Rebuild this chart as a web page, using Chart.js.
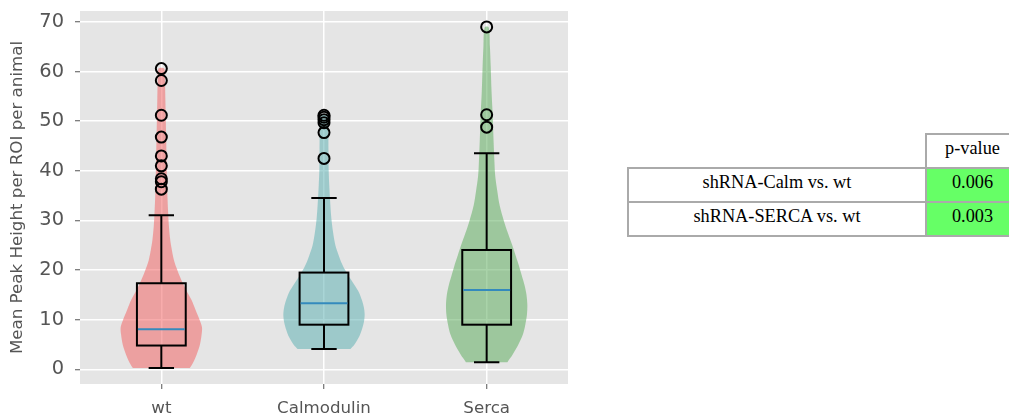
<!DOCTYPE html>
<html>
<head>
<meta charset="utf-8">
<script src="https://cdn.jsdelivr.net/npm/chart.js@4.4.1/dist/chart.umd.min.js"></script>
<style>
  html, body { margin: 0; padding: 0; background: #fff; width: 1009px; height: 417px; overflow: hidden; }
  body { position: relative; }
  #plotBox { position: absolute; left: 0; top: 0; width: 600px; height: 417px; }
  #pvals {
    position: absolute; left: 627px; top: 133px; width: 393px;
    border-collapse: separate; border-spacing: 0; table-layout: fixed;
    font-family: 'Liberation Serif', 'Times New Roman', serif; font-size: 18.3px; color: #000;
  }
  #pvals th, #pvals td {
    box-sizing: border-box; height: 34px; padding: 3px 0 0 0; white-space: nowrap;
    vertical-align: top; text-align: center; font-weight: normal;
  }
  #pvals .lbl { border-left: 2px solid #aaa; border-top: 2px solid #aaa; }
  #pvals .pv { border-left: 2px solid #aaa; border-top: 2px solid #aaa; border-right: 2px solid #aaa; }
  #pvals .sig { background: #66ff66; }
  #pvals tr:last-child td { border-bottom: 2px solid #aaa; height: 36px; }
</style>
</head>
<body>
<div id="plotBox"><canvas id="violins"></canvas></div>

<table id="pvals">
  <colgroup><col style="width:298px"><col style="width:95px"></colgroup>
  <tr><th></th><th class="pv">p-value</th></tr>
  <tr><td class="lbl">shRNA-Calm vs. wt</td><td class="pv sig">0.006</td></tr>
  <tr><td class="lbl">shRNA-SERCA vs. wt</td><td class="pv sig">0.003</td></tr>
</table>

<script>
// Groups and their positions on the x axis
const categories = ['wt', 'Calmodulin', 'Serca'];
const positions = [1, 2, 3];
const yTickValues = [0, 10, 20, 30, 40, 50, 60, 70];

// Kernel density outlines: heights and relative half-widths (1 = widest)
const wtDensityY = [0.25, 1.5, 3, 5, 7, 8.5, 10, 12, 14, 16, 17.5, 19, 20.5, 22, 24, 26, 29, 32, 35, 38, 42, 46, 50, 54, 58, 60.6];
const wtDensityW = [0.70, 0.79, 0.87, 0.95, 0.99, 1.0, 0.94, 0.84, 0.74, 0.61, 0.52, 0.44, 0.37, 0.31, 0.26, 0.22, 0.185, 0.165, 0.15, 0.14, 0.13, 0.12, 0.11, 0.10, 0.09, 0.07];

const calmDensityY = [4.1, 5, 6.5, 8, 9.5, 11, 12.5, 14, 15.5, 17, 18.5, 20, 21.5, 23, 25, 27.5, 30.5, 34, 37, 40, 44, 48, 51.2];
const calmDensityW = [0.65, 0.75, 0.86, 0.93, 0.98, 1.0, 0.98, 0.93, 0.86, 0.75, 0.63, 0.52, 0.43, 0.36, 0.28, 0.225, 0.18, 0.15, 0.13, 0.115, 0.11, 0.105, 0.08];

const sercaDensityY = [1.45, 3, 5, 7, 9, 11, 13, 15, 17, 19, 21, 23, 25, 27.5, 30, 33, 36, 39, 42, 46, 51, 56, 61, 65, 68.9];
const sercaDensityW = [0.51, 0.64, 0.78, 0.89, 0.95, 0.99, 1.0, 0.98, 0.93, 0.86, 0.79, 0.71, 0.63, 0.52, 0.42, 0.32, 0.26, 0.21, 0.19, 0.17, 0.15, 0.12, 0.10, 0.08, 0.05];

// Box plot statistics per group
const whiskerLow  = [0.25, 4.1, 1.45];
const quartile1   = [4.8, 9.0, 9.0];
const medians     = [8.1, 13.3, 16.0];
const quartile3   = [17.35, 19.5, 24.05];
const whiskerHigh = [31.05, 34.5, 43.55];

// Points beyond the whiskers
const wtOutliers    = [60.6, 58.2, 51.2, 46.8, 43.0, 41.0, 38.4, 37.8, 36.3];
const calmOutliers  = [51.2, 50.8, 50.3, 49.7, 47.7, 42.5];
const sercaOutliers = [69.0, 51.3, 48.8];

const violinColors = ['rgba(242,104,104,0.55)', 'rgba(98,178,180,0.55)', 'rgba(98,175,98,0.55)'];

const VIOLIN_HALF = 0.25;   // half of the violin width in axis units
const BOX_HALF = 0.15;
const CAP_HALF = 0.078;

function violinOutline(pos, ys, ws) {
  const right = ys.map((y, i) => ({ x: pos + ws[i] * VIOLIN_HALF, y }));
  const left = ys.map((y, i) => ({ x: pos - ws[i] * VIOLIN_HALF, y })).reverse();
  return right.concat(left);
}

const densities = [[wtDensityY, wtDensityW], [calmDensityY, calmDensityW], [sercaDensityY, sercaDensityW]];
const outlierSets = [wtOutliers, calmOutliers, sercaOutliers];

const datasets = [];
densities.forEach(([ys, ws], i) => {
  datasets.push({
    type: 'line',
    data: violinOutline(positions[i], ys, ws),
    fill: 'shape',
    backgroundColor: violinColors[i],
    borderColor: 'rgba(0,0,0,0)',
    borderWidth: 0,
    pointRadius: 0,
    tension: 0.3,
    order: 2
  });
});
outlierSets.forEach((vals, i) => {
  datasets.push({
    type: 'scatter',
    data: vals.map(v => ({ x: positions[i], y: v })),
    showLine: false,
    pointRadius: 5.5,
    pointBorderWidth: 2,
    pointBorderColor: '#000',
    pointBackgroundColor: 'rgba(0,0,0,0)',
    order: 0
  });
});

// Gray panel behind the data area
const panelBackground = {
  id: 'panelBackground',
  beforeDraw(chart) {
    const { ctx, chartArea: a } = chart;
    ctx.save();
    ctx.fillStyle = '#e5e5e5';
    ctx.fillRect(a.left, a.top, a.right - a.left, a.bottom - a.top);
    ctx.restore();
  }
};

// Boxes, whiskers, caps and medians
const boxPlots = {
  id: 'boxPlots',
  afterDatasetsDraw(chart) {
    const { ctx, scales: { x, y } } = chart;
    ctx.save();
    ctx.lineCap = 'butt';
    positions.forEach((p, i) => {
      const xl = x.getPixelForValue(p - BOX_HALF);
      const xr = x.getPixelForValue(p + BOX_HALF);
      const xc = x.getPixelForValue(p);
      const cl = x.getPixelForValue(p - CAP_HALF);
      const cr = x.getPixelForValue(p + CAP_HALF);
      const yq1 = y.getPixelForValue(quartile1[i]);
      const yq3 = y.getPixelForValue(quartile3[i]);
      const ylo = y.getPixelForValue(whiskerLow[i]);
      const yhi = y.getPixelForValue(whiskerHigh[i]);
      const ymed = y.getPixelForValue(medians[i]);

      ctx.strokeStyle = '#000';
      ctx.lineWidth = 2;
      ctx.strokeRect(xl, yq3, xr - xl, yq1 - yq3);
      ctx.beginPath();
      ctx.moveTo(xc, yq1); ctx.lineTo(xc, ylo);
      ctx.moveTo(xc, yq3); ctx.lineTo(xc, yhi);
      ctx.moveTo(cl, ylo); ctx.lineTo(cr, ylo);
      ctx.moveTo(cl, yhi); ctx.lineTo(cr, yhi);
      ctx.stroke();

      ctx.strokeStyle = '#348abd';
      ctx.lineWidth = 2;
      ctx.beginPath();
      ctx.moveTo(xl + 1, ymed); ctx.lineTo(xr - 1, ymed);
      ctx.stroke();
    });
    ctx.restore();
  }
};

Chart.defaults.font.family = "'DejaVu Sans', sans-serif";

new Chart(document.getElementById('violins'), {
  type: 'line',
  data: { datasets },
  plugins: [panelBackground, boxPlots],
  options: {
    responsive: true,
    maintainAspectRatio: false,
    devicePixelRatio: 1,
    animation: false,
    events: [],
    layout: { padding: { top: 11, right: 32, left: 0, bottom: 0 } },
    plugins: { legend: { display: false }, tooltip: { enabled: false } },
    scales: {
      x: {
        type: 'linear',
        min: 0.5,
        max: 3.5,
        afterBuildTicks(scale) { scale.ticks = positions.map(v => ({ value: v })); },
        afterFit(scale) { scale.height = 33; scale.paddingLeft = 0; scale.paddingRight = 0; },
        grid: { color: '#ffffff', lineWidth: 1.5, tickColor: '#555555', tickLength: 5, tickWidth: 1 },
        border: { display: false },
        ticks: {
          autoSkip: false, maxRotation: 0, padding: 10,
          color: '#555555', font: { size: 16.67 },
          callback: (v) => categories[positions.indexOf(v)]
        }
      },
      y: {
        type: 'linear',
        min: -2.95,
        max: 72.2,
        afterBuildTicks(scale) { scale.ticks = yTickValues.map(v => ({ value: v })); },
        afterFit(scale) { scale.width = 80; scale.paddingTop = 0; scale.paddingBottom = 0; },
        grid: { color: '#ffffff', lineWidth: 1.5, tickColor: '#555555', tickLength: 5, tickWidth: 1 },
        border: { display: false },
        ticks: { padding: 11, color: '#555555', font: { size: 19.4 } },
        title: {
          display: true,
          text: 'Mean Peak Height per ROI per animal',
          color: '#555555',
          font: { size: 16.67 },
          padding: { top: 8, bottom: 0 }
        }
      }
    }
  }
});
</script>
</body>
</html>
